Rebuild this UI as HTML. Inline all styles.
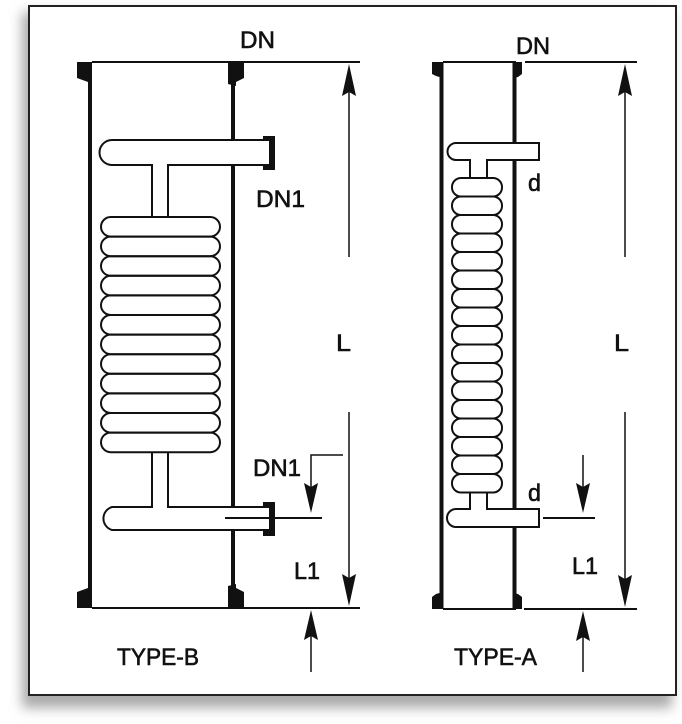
<!DOCTYPE html>
<html><head><meta charset="utf-8"><style>
html,body{margin:0;padding:0;background:#fff;}
svg{display:block;}
text{font-family:"Liberation Sans",sans-serif;fill:#111;stroke:#111;stroke-width:0.6;}
</style></head><body>
<svg width="682" height="724" viewBox="0 0 682 724" xmlns="http://www.w3.org/2000/svg">
<defs>
<filter id="sh" x="-10%" y="-10%" width="120%" height="120%"><feGaussianBlur stdDeviation="6"/></filter>
</defs>
<rect x="22" y="12" width="650" height="696" fill="#aaa" filter="url(#sh)"/>
<rect x="29" y="6" width="647" height="689" fill="#fff" stroke="#222" stroke-width="2"/>

<g stroke="#111" fill="none">
<!-- TYPE-B shell -->
<line x1="90" y1="62" x2="90" y2="608" stroke-width="4"/>
<line x1="233" y1="62" x2="233" y2="140" stroke-width="4"/>
<line x1="233" y1="165" x2="233" y2="507" stroke-width="4"/>
<line x1="233" y1="530" x2="233" y2="608" stroke-width="4"/>
<line x1="92" y1="62" x2="360" y2="62" stroke-width="2"/>
<line x1="92" y1="608" x2="360" y2="608" stroke-width="2"/>
<path d="M233 140 H112 A12 12 0 0 0 112 165 H152 V217 M168 217 V165 H233" stroke-width="2"/>
<path d="M233 140 H270 V165 H233" stroke-width="2"/>
<g stroke-width="2">
<rect x="101" y="217" width="119" height="19.6" rx="9.8"/><rect x="101" y="236.6" width="119" height="19.6" rx="9.8"/><rect x="101" y="256.2" width="119" height="19.6" rx="9.8"/><rect x="101" y="275.8" width="119" height="19.6" rx="9.8"/><rect x="101" y="295.4" width="119" height="19.6" rx="9.8"/><rect x="101" y="315" width="119" height="19.6" rx="9.8"/><rect x="101" y="334.6" width="119" height="19.6" rx="9.8"/><rect x="101" y="354.2" width="119" height="19.6" rx="9.8"/><rect x="101" y="373.8" width="119" height="19.6" rx="9.8"/><rect x="101" y="393.4" width="119" height="19.6" rx="9.8"/><rect x="101" y="413" width="119" height="19.6" rx="9.8"/><rect x="101" y="432.6" width="119" height="19.6" rx="9.8"/>
</g>
<path d="M152 452 V507 H112 A12 12 0 0 0 112 530 H270 V507 H168 V452" stroke-width="2"/>
<line x1="225" y1="518" x2="322" y2="518" stroke-width="2"/>
<line x1="349" y1="80" x2="349" y2="257" stroke-width="1.5"/>
<line x1="349" y1="412" x2="349" y2="590" stroke-width="1.5"/>
<path d="M343 455 H311 V490" stroke-width="1.5"/>
<line x1="311" y1="672" x2="311" y2="630" stroke-width="1.5"/>

<!-- TYPE-A shell -->
<line x1="441.5" y1="62" x2="441.5" y2="609" stroke-width="4"/>
<line x1="514.5" y1="62" x2="514.5" y2="143" stroke-width="4"/>
<line x1="514.5" y1="160" x2="514.5" y2="509" stroke-width="4"/>
<line x1="514.5" y1="527" x2="514.5" y2="609" stroke-width="4"/>
<line x1="443" y1="62" x2="516" y2="62" stroke-width="2"/>
<line x1="525" y1="62" x2="637" y2="62" stroke-width="2"/>
<line x1="443" y1="609" x2="516" y2="609" stroke-width="2"/>
<line x1="524" y1="609" x2="637" y2="609" stroke-width="2"/>
<path d="M514 143 H456 A8.5 8.5 0 0 0 456 160 H470 V178 M487 178 V160 H514" stroke-width="2"/>
<path d="M514 143 H539 V160 H514" stroke-width="2"/>
<g stroke-width="2">
<rect x="452" y="178" width="50" height="18.5" rx="9"/><rect x="452" y="196.5" width="50" height="18.5" rx="9"/><rect x="452" y="215" width="50" height="18.5" rx="9"/><rect x="452" y="233.5" width="50" height="18.5" rx="9"/><rect x="452" y="252" width="50" height="18.5" rx="9"/><rect x="452" y="270.5" width="50" height="18.5" rx="9"/><rect x="452" y="289" width="50" height="18.5" rx="9"/><rect x="452" y="307.5" width="50" height="18.5" rx="9"/><rect x="452" y="326" width="50" height="18.5" rx="9"/><rect x="452" y="344.5" width="50" height="18.5" rx="9"/><rect x="452" y="363" width="50" height="18.5" rx="9"/><rect x="452" y="381.5" width="50" height="18.5" rx="9"/><rect x="452" y="400" width="50" height="18.5" rx="9"/><rect x="452" y="418.5" width="50" height="18.5" rx="9"/><rect x="452" y="437" width="50" height="18.5" rx="9"/><rect x="452" y="455.5" width="50" height="18.5" rx="9"/><rect x="452" y="474" width="50" height="18.5" rx="9"/>
</g>
<path d="M470 492 V509 H456 A9 9 0 0 0 456 527 H539 V509 H487 V492" stroke-width="2"/>
<line x1="543" y1="518" x2="595" y2="518" stroke-width="2"/>
<line x1="625" y1="80" x2="625" y2="257" stroke-width="1.5"/>
<line x1="625" y1="412" x2="625" y2="590" stroke-width="1.5"/>
<line x1="583" y1="455" x2="583" y2="490" stroke-width="1.5"/>
<line x1="583" y1="672" x2="583" y2="630" stroke-width="1.5"/>
</g>

<!-- arrowheads -->
<g fill="#111">
<path d="M349 64 L356 96 L349 92 L342 96 Z"/>
<path d="M349 606 L356 574 L349 578 L342 574 Z"/>
<path d="M311 513 L318 483 L311 487 L304 483 Z"/>
<path d="M311 610 L318 640 L311 636 L304 640 Z"/>
<path d="M625 64 L632 96 L625 92 L618 96 Z"/>
<path d="M625 607 L632 575 L625 579 L618 575 Z"/>
<path d="M583 513 L590 483 L583 487 L576 483 Z"/>
<path d="M583 611 L590 641 L583 637 L576 641 Z"/>
</g>

<!-- flanges -->
<g fill="#111">
<path d="M77 62 H92 V84 L88 86 V82 L77 78 Z"/>
<path d="M228 62 H244 V78 L236 82 V86 L228 84 Z"/>
<path d="M77 608 H92 V586 L88 584 V588 L77 592 Z"/>
<path d="M228 608 H244 V592 L236 588 V584 L228 586 Z"/>
<path d="M263 136 H275 V170 H263 Z"/>
<path d="M263 502 H275 V536 H263 Z"/>
<path d="M432 62 H443 V78 L436 76 L432 74 Z"/>
<path d="M513 62 H522 V74 L518 77 L513 78 Z"/>
<path d="M432 609 H443 V592 L436 594 L432 597 Z"/>
<path d="M513 609 H522 V597 L518 594 L513 593 Z"/>
</g>
<g stroke="#111" stroke-width="2" fill="#fff">
<rect x="263" y="140" width="7" height="25" stroke="none"/>
<rect x="263" y="507" width="7" height="23" stroke="none"/>
</g>
<g stroke="#111" stroke-width="2" fill="none">
<path d="M233 140 H270 V165 H233"/>
<path d="M233 507 H270 V530 H233"/>
<line x1="225" y1="518" x2="322" y2="518"/>
</g>

<!-- labels -->
<g font-size="24">
<text x="240" y="48" textLength="35" lengthAdjust="spacingAndGlyphs">DN</text>
<text x="516" y="54" textLength="34" lengthAdjust="spacingAndGlyphs">DN</text>
<text x="256" y="207" textLength="49" lengthAdjust="spacingAndGlyphs">DN1</text>
<text x="253" y="476" textLength="48" lengthAdjust="spacingAndGlyphs">DN1</text>
<text x="336" y="351" textLength="15" lengthAdjust="spacingAndGlyphs">L</text>
<text x="614" y="351" textLength="15" lengthAdjust="spacingAndGlyphs">L</text>
<text x="294" y="579" textLength="26" lengthAdjust="spacingAndGlyphs">L1</text>
<text x="572" y="574" textLength="26" lengthAdjust="spacingAndGlyphs">L1</text>
<text x="528" y="191" textLength="13" lengthAdjust="spacingAndGlyphs">d</text>
<text x="528" y="501" textLength="13" lengthAdjust="spacingAndGlyphs">d</text>
<text x="117" y="665" textLength="82" lengthAdjust="spacingAndGlyphs">TYPE-B</text>
<text x="454" y="665" textLength="83" lengthAdjust="spacingAndGlyphs">TYPE-A</text>
</g>
</svg>
</body></html>
